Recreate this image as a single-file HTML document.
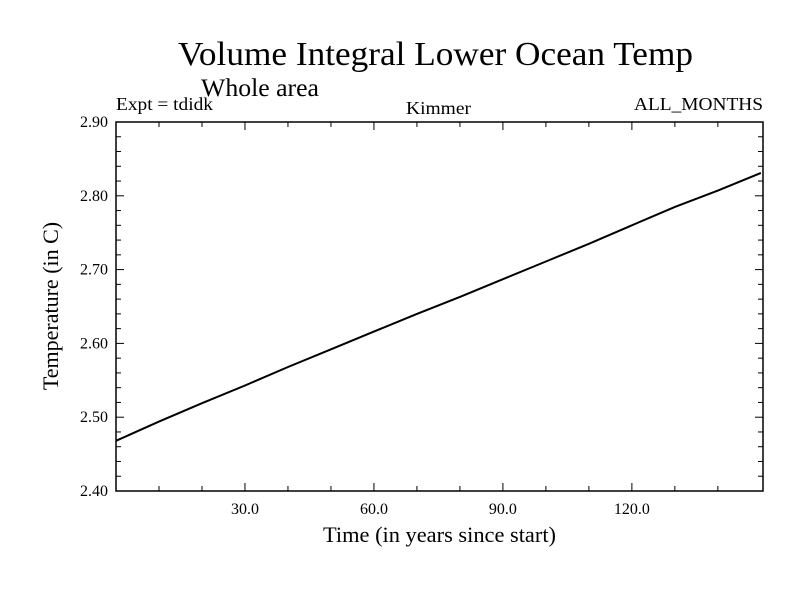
<!DOCTYPE html>
<html><head><meta charset="utf-8"><style>
body{margin:0;background:#fff}
svg text{font-family:"Liberation Serif",serif;fill:#000}
</style></head><body>
<svg id="chart" width="800" height="600" xmlns="http://www.w3.org/2000/svg">
<text x="178" y="65" font-size="34" textLength="515" lengthAdjust="spacingAndGlyphs">Volume Integral Lower Ocean Temp</text>
<text x="201" y="96" font-size="25" textLength="118" lengthAdjust="spacingAndGlyphs">Whole area</text>
<text x="116" y="110" font-size="18" textLength="97" lengthAdjust="spacingAndGlyphs">Expt = tdidk</text>
<text x="406" y="114" font-size="18" textLength="65" lengthAdjust="spacingAndGlyphs">Kimmer</text>
<text x="634" y="110" font-size="18" textLength="129" lengthAdjust="spacingAndGlyphs">ALL_MONTHS</text>
<text x="323" y="542" font-size="22" textLength="233" lengthAdjust="spacingAndGlyphs">Time (in years since start)</text>
<text transform="translate(58,306) rotate(-90)" font-size="22" text-anchor="middle">Temperature (in C)</text>
<rect x="116" y="122" width="647" height="369" fill="none" stroke="#000" stroke-width="1.5"/>
<g id="ticks"></g>
<path id="series" fill="none" stroke="#000" stroke-width="2"/>
</svg>
<script>
const years=[0,10,20,30,40,50,60,70,80,90,100,110,120,130,140,150];
const temps=[2.468,2.494,2.519,2.543,2.568,2.592,2.616,2.640,2.663,2.687,2.711,2.735,2.760,2.785,2.807,2.831];
const xTicks=[30,60,90,120];
const xTickLabels=["30.0","60.0","90.0","120.0"];
const yTicks=[2.4,2.5,2.6,2.7,2.8,2.9];
const yTickLabels=["2.40","2.50","2.60","2.70","2.80","2.90"];
const X0=116,X1=763,Y0=491,Y1=122,XMIN=0,XMAX=150.5,YMIN=2.4,YMAX=2.9;
function sx(v){return X0+(v-XMIN)/(XMAX-XMIN)*(X1-X0);}
function sy(v){return Y0-(v-YMIN)/(YMAX-YMIN)*(Y0-Y1);}
const NS="http://www.w3.org/2000/svg";
const g=document.getElementById('ticks');
function line(x1,y1,x2,y2){const l=document.createElementNS(NS,'line');
l.setAttribute('x1',x1);l.setAttribute('y1',y1);l.setAttribute('x2',x2);l.setAttribute('y2',y2);
l.setAttribute('stroke','#000');l.setAttribute('stroke-width','1');


g.appendChild(l);}
function text(x,y,s,anchor,name){const t=document.createElementNS(NS,'text');
t.setAttribute('x',x);t.setAttribute('y',y);t.setAttribute('font-size','16');t.setAttribute('text-anchor',anchor);t.textContent=s;


g.appendChild(t);}
for(let v=10;v<149;v+=10){const x=sx(v);const major=v%30===0;const L=major?8:5;line(x,Y0,x,Y0-L);line(x,Y1,x,Y1+L);}
for(let v=2.42;v<2.89;v+=0.02){const y=sy(v);const major=Math.abs(v*10-Math.round(v*10))<1e-6;const L=major?8:5;line(X0,y,X0+L,y);line(X1,y,X1-L,y);}
xTicks.forEach((v,i)=>text(sx(v),Y0+23,xTickLabels[i],'middle','x-tick-label'));
yTicks.forEach((v,i)=>text(X0-8,sy(v)+5,yTickLabels[i],'end','y-tick-label'));
document.getElementById('series').setAttribute('d',years.map((v,i)=>(i?'L':'M')+sx(v).toFixed(1)+','+sy(temps[i]).toFixed(1)).join(''));
</script>
</body></html>
